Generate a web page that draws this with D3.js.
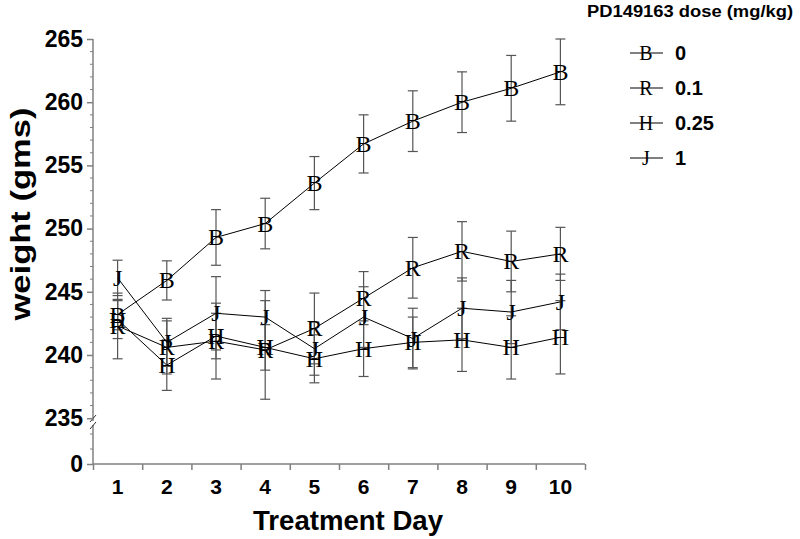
<!DOCTYPE html>
<html><head><meta charset="utf-8">
<script src="https://cdn.jsdelivr.net/npm/d3@7"></script>
<style>body{margin:0;background:#fff}svg{display:block}</style>
</head><body><svg id="c" width="800" height="539"></svg>
<script>
const days = [1,2,3,4,5,6,7,8,9,10];
const doseLabels = ["0","0.1","0.25","1"];
const markers = ["B","R","H","J"];
const mean0   = [243.2,245.9,249.3,250.4,253.6,256.7,258.5,260.0,261.1,262.4];
const err0    = [1.2,1.55,2.2,2.0,2.1,2.3,2.4,2.4,2.6,2.6];
const mean01  = [242.3,240.6,241.1,240.4,242.1,244.5,246.9,248.2,247.4,248.0];
const err01   = [2.6,2.1,3.0,3.9,2.8,2.1,2.4,2.35,2.4,2.1];
const mean025 = [242.8,239.2,241.5,240.6,239.7,240.5,241.0,241.2,240.6,241.4];
const err025  = [1.5,2.0,1.8,1.8,1.9,2.2,2.0,2.5,2.5,2.9];
const mean1   = [246.1,241.0,243.3,243.0,240.5,243.0,241.3,243.7,243.4,244.2];
const err1    = [1.4,1.9,2.9,2.1,2.1,2.4,2.4,2.4,2.5,2.2];
const yTicks = [235,240,245,250,255,260,265];
const xTitle = "Treatment Day", yTitle = "weight (gms)", legendTitle = "PD149163 dose (mg/kg)";

const series = [
  {m:mean0,e:err0},{m:mean01,e:err01},{m:mean025,e:err025},{m:mean1,e:err1}
].map((s,i)=>({label:doseLabels[i], mk:markers[i], pts:days.map((d,j)=>({d, v:s.m[j], e:s.e[j]}))}));

const svg = d3.select("#c");
const axisColor = "#808080";
const x = d3.scaleLinear().domain([0.5,10.5]).range([93,585]);
const y = d3.scaleLinear().domain([235,265]).range([418.2,39]);
const yLow = d3.scaleLinear().domain([0,1]).range([464,449]); // lower segment below the break
const sans = "'Liberation Sans', Arial, sans-serif";
const serif = "'Liberation Serif', 'Times New Roman', serif";

// Y axis line with break
const ax = x.range()[0];
svg.append("line").attr("x1",ax).attr("x2",ax).attr("y1",y(265)).attr("y2",421).attr("stroke",axisColor).attr("stroke-width",1.5);
svg.append("line").attr("x1",ax).attr("x2",ax).attr("y1",425).attr("y2",yLow(0)).attr("stroke",axisColor).attr("stroke-width",1.5);
[0,7].forEach(o=>{
  svg.append("line").attr("x1",ax-3).attr("y1",422+o).attr("x2",ax+3).attr("y2",415+o).attr("stroke","#333").attr("stroke-width",1);
});
// Y minor ticks
const minor = d3.range(235,266,1).filter(v=>v%5!==0);
svg.append("g").selectAll("line").data(minor).join("line")
  .attr("x1",ax-3).attr("x2",ax).attr("y1",d=>y(d)).attr("y2",d=>y(d)).attr("stroke",axisColor);
svg.append("g").selectAll("line").data([1,2]).join("line")
  .attr("x1",ax-3).attr("x2",ax).attr("y1",d=>yLow(d)).attr("y2",d=>yLow(d)).attr("stroke",axisColor);
// Y major ticks
const yAx = svg.append("g").attr("transform",`translate(${ax},0)`)
  .call(d3.axisLeft(y).tickValues(yTicks).tickSize(6).tickPadding(4).tickFormat(d3.format("d")));
yAx.select(".domain").remove();
yAx.selectAll(".tick line").attr("stroke",axisColor).attr("stroke-width",1.5);
yAx.selectAll("text").attr("font-family",sans).attr("font-weight","bold").attr("font-size",23).attr("fill","#000");
// zero tick
const z = svg.append("g").attr("transform",`translate(${ax},0)`)
  .call(d3.axisLeft(yLow).tickValues([0]).tickSize(6).tickPadding(4).tickFormat(d3.format("d")));
z.select(".domain").remove();
z.selectAll(".tick line").attr("stroke",axisColor).attr("stroke-width",1.5);
z.selectAll("text").attr("font-family",sans).attr("font-weight","bold").attr("font-size",23).attr("fill","#000");

// X axis
svg.append("line").attr("x1",x(0.5)).attr("x2",x(10.5)).attr("y1",yLow(0)).attr("y2",yLow(0)).attr("stroke",axisColor).attr("stroke-width",1.5);
const xAx = svg.append("g").attr("transform",`translate(0,${yLow(0)})`)
  .call(d3.axisBottom(x).tickValues(d3.range(0.5,11,1)).tickSize(6).tickFormat(""));
xAx.select(".domain").remove();
xAx.selectAll(".tick line").attr("stroke",axisColor).attr("stroke-width",1.5);
svg.append("g").selectAll("text").data(days).join("text")
  .attr("x",d=>x(d)).attr("y",494).attr("text-anchor","middle")
  .attr("font-family",sans).attr("font-weight","bold").attr("font-size",21).text(d=>d);

// titles
svg.append("text").attr("x",348).attr("y",530).attr("text-anchor","middle")
  .attr("font-family",sans).attr("font-weight","bold").attr("font-size",27)
  .attr("textLength",190).attr("lengthAdjust","spacingAndGlyphs").text(xTitle);
svg.append("text").attr("transform","translate(30,214) rotate(-90)").attr("text-anchor","middle")
  .attr("font-family",sans).attr("font-weight","bold").attr("font-size",28)
  .attr("textLength",213).attr("lengthAdjust","spacingAndGlyphs").text(yTitle);

// error bars
const cap = 5;
series.forEach(s=>{
  const g = svg.append("g").attr("stroke","#555").attr("stroke-width",1.2);
  s.pts.forEach(p=>{
    g.append("line").attr("x1",x(p.d)).attr("x2",x(p.d)).attr("y1",y(p.v+p.e)).attr("y2",y(p.v-p.e));
    g.append("line").attr("x1",x(p.d)-cap).attr("x2",x(p.d)+cap).attr("y1",y(p.v+p.e)).attr("y2",y(p.v+p.e));
    g.append("line").attr("x1",x(p.d)-cap).attr("x2",x(p.d)+cap).attr("y1",y(p.v-p.e)).attr("y2",y(p.v-p.e));
  });
});
// lines
const line = d3.line().x(p=>x(p.d)).y(p=>y(p.v));
series.forEach(s=>{
  svg.append("path").datum(s.pts).attr("d",line).attr("fill","none").attr("stroke","#000").attr("stroke-width",1);
});
// markers
series.forEach(s=>{
  svg.append("g").selectAll("text").data(s.pts).join("text")
    .attr("x",p=>x(p.d)).attr("y",p=>y(p.v)+8).attr("text-anchor","middle")
    .attr("font-family",serif).attr("font-size",24).attr("fill","#000").text(s.mk);
});

// legend
svg.append("text").attr("x",587).attr("y",17).attr("font-family",sans).attr("font-weight","bold").attr("font-size",16)
  .attr("textLength",206).attr("lengthAdjust","spacingAndGlyphs").text(legendTitle);
const lg = svg.append("g").selectAll("g").data(series).join("g").attr("transform",(d,i)=>`translate(0,${53+i*35})`);
lg.append("line").attr("x1",630).attr("x2",663).attr("y1",0).attr("y2",0).attr("stroke","#000");
lg.append("text").attr("x",646).attr("y",7).attr("text-anchor","middle").attr("font-family",serif).attr("font-size",20).text(d=>d.mk);
lg.append("text").attr("x",675).attr("y",7).attr("font-family",sans).attr("font-weight","bold").attr("font-size",20).text(d=>d.label);
</script></body></html>
